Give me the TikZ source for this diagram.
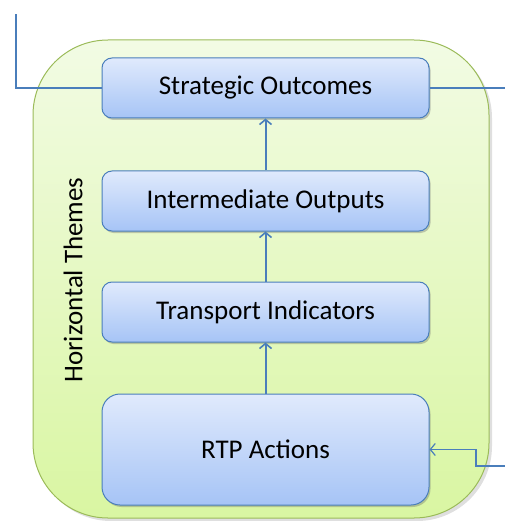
\documentclass[tikz,border=0pt]{standalone}
\usepackage{fontspec}
\setmainfont{Carlito}
\usetikzlibrary{arrows.meta,shadows}
\definecolor{linkblue}{HTML}{4A7EBB}
\definecolor{boxtop}{HTML}{E0EAFC}
\definecolor{boxbot}{HTML}{A6C4F6}
\definecolor{greentop}{HTML}{F2FBE4}
\definecolor{greenbot}{HTML}{D9F6A2}
\definecolor{greenline}{HTML}{9BBB59}
\tikzset{
  stagebox/.style={draw=linkblue, line width=1pt, rounded corners=10pt,
    top color=boxtop, bottom color=boxbot, minimum width=327pt, minimum height=60pt,
    font=\fontsize{27}{32}\selectfont, text=black, inner sep=0pt,
    drop shadow={shadow xshift=1.5pt, shadow yshift=-2pt, opacity=0.35, fill=black!60}},
  uparrow/.style={draw=linkblue, line width=2pt, -{Straight Barb[length=5pt,width=12pt,line width=1.6pt]}},
  linkline/.style={draw=linkblue, line width=2pt},
  thinlink/.style={draw=linkblue, line width=1.2pt},
}
\begin{document}
\begin{tikzpicture}[x=1pt,y=-1pt]
\useasboundingbox (0,0) rectangle (504,521);
% green background
\node[draw=greenline, line width=1pt, rounded corners=75pt, top color=greentop, bottom color=greenbot,
  minimum width=456pt, minimum height=478pt, inner sep=0pt,
  drop shadow={shadow xshift=3pt, shadow yshift=-3pt, opacity=0.25, fill=black!50}] (bg) at (261,279) {};
\node[rotate=90, font=\fontsize{27}{32}\selectfont] (ht) at (73,280) {Horizontal Themes};
\node[stagebox] (so) at (265.5,88) {Strategic Outcomes};
\node[stagebox] (io) at (265.5,201) {Intermediate Outputs};
\node[stagebox] (ti) at (265.5,312) {Transport Indicators};
\node[stagebox, minimum height=111pt, rounded corners=18pt] (rtp) at (265.5,449.5) {RTP Actions};
\draw[uparrow] (rtp.north) -- (ti.south);
\draw[uparrow] (ti.north) -- (io.south);
\draw[uparrow] (io.north) -- (so.south);
\coordinate (lt) at (16,14);
\coordinate (rt) at (505,88);
\coordinate (fb) at (505,466);
\draw[linkline] (so.west) -| (lt);
\draw[linkline] (so.east) -- (rt);
\draw[thinlink, -{Straight Barb[length=5pt,width=12pt,line width=1.2pt]}] (fb) -- (476,466) |- (rtp.east);
\end{tikzpicture}
\end{document}
